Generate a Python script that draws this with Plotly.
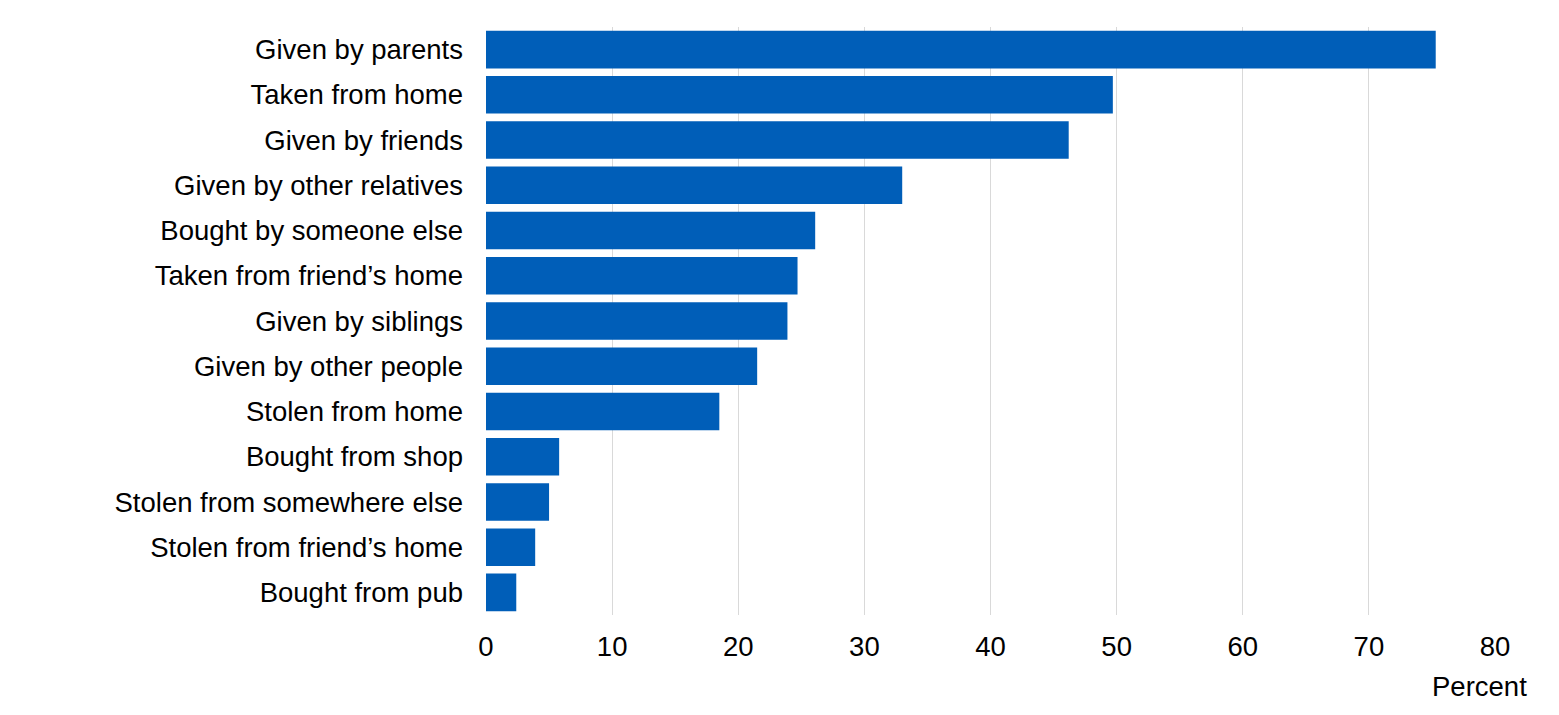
import plotly.graph_objects as go

sources = [
    "Given by parents",
    "Taken from home",
    "Given by friends",
    "Given by other relatives",
    "Bought by someone else",
    "Taken from friend\u2019s home",
    "Given by siblings",
    "Given by other people",
    "Stolen from home",
    "Bought from shop",
    "Stolen from somewhere else",
    "Stolen from friend\u2019s home",
    "Bought from pub",
]
percent = [75.3, 49.7, 46.2, 33.0, 26.1, 24.7, 23.9, 21.5, 18.5, 5.8, 5.0, 3.9, 2.4]

fig = go.Figure(go.Bar(
    x=percent,
    y=sources,
    orientation="h",
    marker_color="#005EB8",
    marker_line_width=0,
))

# page body adds an 8px margin, so shift everything up/left by 8
fig.update_layout(
    width=1559,
    height=715,
    margin=dict(l=478, r=72, t=19, b=108),
    plot_bgcolor="white",
    paper_bgcolor="white",
    font=dict(family="Liberation Sans, Arial, sans-serif", size=27.5, color="#000000"),
    bargap=0.17,
    showlegend=False,
    xaxis=dict(
        range=[0, 80],
        dtick=10,
        showgrid=True,
        gridcolor="#D9D9D9",
        gridwidth=1,
        zeroline=False,
        showline=False,
        ticklabelstandoff=12,
    ),
    yaxis=dict(
        autorange="reversed",
        showgrid=False,
        showline=False,
        ticklabelstandoff=22,
    ),
    annotations=[dict(
        text="Percent",
        xref="paper", yref="paper",
        x=1.0337, y=-0.121,
        xanchor="right", yanchor="middle",
        showarrow=False,
        font=dict(size=27.5),
    )],
)

fig.write_html("out.html")
